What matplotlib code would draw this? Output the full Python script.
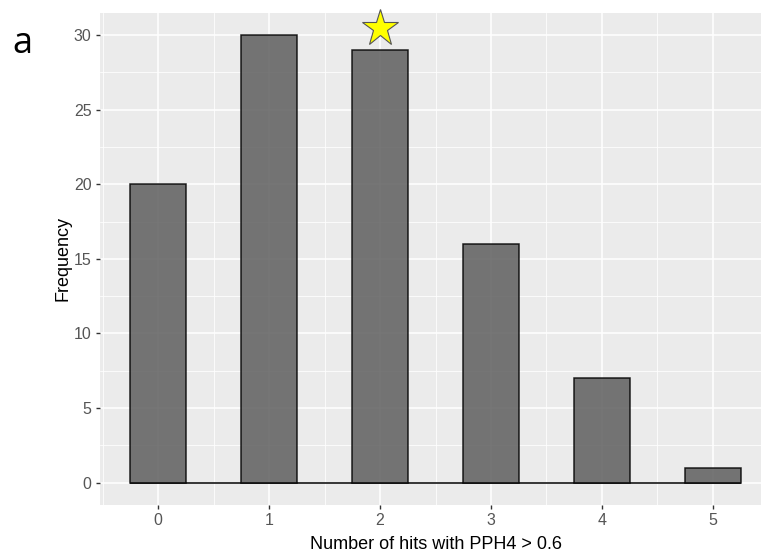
import matplotlib.pyplot as plt
import numpy as np

plt.rcParams['font.family'] = ['Liberation Sans', 'DejaVu Sans']

# data
hits = [0, 1, 2, 3, 4, 5]
freq = [20, 30, 29, 16, 7, 1]
star_x = 2
star_y = 30.5
bar_w = 0.5

fig = plt.figure(figsize=(7.61, 5.54), dpi=100)
ax = fig.add_axes([0.1314, 0.0884, 0.8818, 0.8886])
ax.set_facecolor('#EBEBEB')

ax.set_xlim(-0.525, 5.525)
ax.set_ylim(-1.5, 31.5)
ax.set_xticks(hits)
ax.set_yticks(np.arange(0, 31, 5))
ax.set_xticks(np.arange(-0.5, 5.6, 1), minor=True)
ax.set_yticks(np.arange(2.5, 31, 5), minor=True)
ax.grid(which='major', color='white', linewidth=1.1)
ax.grid(which='minor', color='white', linewidth=0.55)
ax.set_axisbelow(True)
for s in ax.spines.values():
    s.set_visible(False)

# baseline outline between the bars
ax.hlines(0, min(hits) - bar_w / 2, max(hits) + bar_w / 2, color='black', linewidth=1.1, zorder=2)
ax.bar(hits, freq, width=bar_w, color='#5E5E5E', alpha=0.85, edgecolor='black', linewidth=1.1, zorder=3)

ax.plot([star_x], [star_y], marker='*', markersize=28, color='#FFFF00',
        markeredgecolor='#555555', markeredgewidth=0.8, zorder=4, clip_on=False)

ax.tick_params(which='major', length=3, width=1, color='#333333', labelcolor='#555555', labelsize=11.5, pad=3)
ax.tick_params(which='minor', length=0)

ax.set_xlabel('Number of hits with PPH4 > 0.6', fontsize=13)
ax.set_ylabel('Frequency', fontsize=13)
ax.xaxis.set_label_coords(0.5, -0.062)
ax.yaxis.set_label_coords(-0.043, 0.5)

fig.text(0.016, 0.905, 'a', fontsize=26, family=['Open Sans', 'DejaVu Sans'])

fig.savefig('out.png', dpi=100)
